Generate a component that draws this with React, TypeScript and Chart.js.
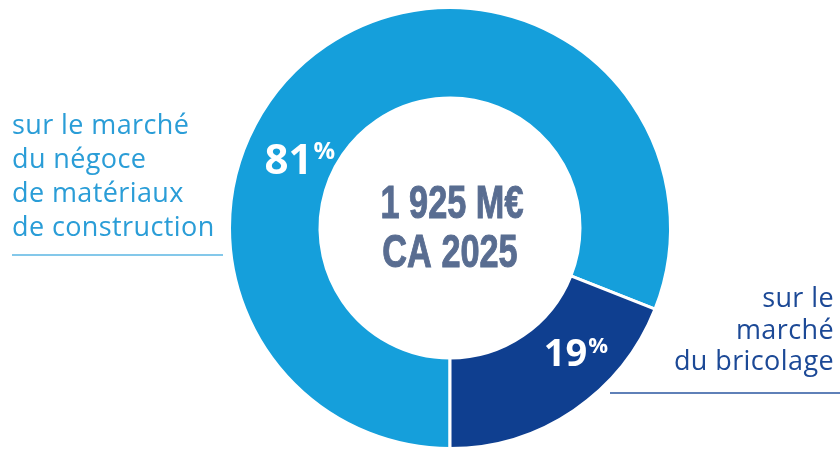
import React, { useEffect, useRef } from "react";
import { Chart, registerables } from "chart.js";

Chart.register(...registerables);

const categories = ["sur le marché du négoce de matériaux de construction", "sur le marché du bricolage"];
const shares = [81, 19];
const colors = ["#159fdb", "#0f3f90"];
const leftLabelLines = ["sur le marché", "du négoce", "de matériaux", "de construction"];
const rightLabelLines = ["sur le", "marché", "du bricolage"];
const centerLines = ["1 925 M€", "CA 2025"];

// label anchors inside each arc: fraction along angle, fraction along ring thickness
const labelAngleFrac = [0.393, 0.337];
const labelRadialFrac = [0.39, 0.52];
const digitSizes = [42, 38];
const pctSizes = [24, 22];

const overlayPlugin = {
  id: "overlay",
  afterDraw(chart: any) {
    const ctx = chart.ctx as CanvasRenderingContext2D;
    const meta = chart.getDatasetMeta(0);
    ctx.save();
    let cx = 0;
    let cy = 0;
    meta.data.forEach((arc: any, i: number) => {
      const p = arc.getProps(["x", "y", "startAngle", "endAngle", "innerRadius", "outerRadius"], true);
      cx = p.x;
      cy = p.y;
      const a = p.startAngle + labelAngleFrac[i] * (p.endAngle - p.startAngle);
      const r = p.innerRadius + labelRadialFrac[i] * (p.outerRadius - p.innerRadius);
      const lx = p.x + Math.cos(a) * r;
      const ly = p.y + Math.sin(a) * r;
      const num = String(shares[i]);
      ctx.fillStyle = "#ffffff";
      ctx.textBaseline = "alphabetic";
      ctx.textAlign = "left";
      ctx.font = `bold ${digitSizes[i]}px 'Open Sans', sans-serif`;
      const w1 = ctx.measureText(num).width;
      ctx.font = `bold ${pctSizes[i]}px 'Open Sans', sans-serif`;
      const w2 = ctx.measureText("%").width;
      const total = w1 + 1 + w2;
      const x0 = lx - total / 2;
      const cap = digitSizes[i] * 0.714;
      const base = ly + cap / 2;
      ctx.font = `bold ${digitSizes[i]}px 'Open Sans', sans-serif`;
      ctx.fillText(num, x0, base);
      ctx.font = `bold ${pctSizes[i]}px 'Open Sans', sans-serif`;
      ctx.fillText("%", x0 + w1 + 1, base - cap - 2 + pctSizes[i] * 0.714);
    });

    // centre text (narrow bold, emulated by horizontal scaling to the target width)
    ctx.fillStyle = "#596d91";
    ctx.strokeStyle = "#596d91";
    ctx.lineWidth = 1;
    ctx.textAlign = "center";
    ctx.font = "bold 46px 'Liberation Sans', Arial, sans-serif";
    const w = ctx.measureText(centerLines[0]).width;
    const sx = 143 / w;
    ctx.save();
    ctx.translate(cx + 2, 0);
    ctx.scale(sx, 1);
    ctx.fillText(centerLines[0], 0, cy - 10);
    ctx.strokeText(centerLines[0], 0, cy - 10);
    ctx.fillText(centerLines[1], -2 / sx, cy + 39);
    ctx.strokeText(centerLines[1], -2 / sx, cy + 39);
    ctx.restore();

    // left label
    (ctx as any).letterSpacing = "0.4px";
    ctx.font = "27px 'Open Sans', sans-serif";
    ctx.fillStyle = "#2a9dd7";
    ctx.textAlign = "left";
    leftLabelLines.forEach((t, i) => ctx.fillText(t, 12, 134 + i * 34));
    ctx.strokeStyle = "#5bb6e3";
    ctx.lineWidth = 1.5;
    ctx.beginPath();
    ctx.moveTo(12, 255);
    ctx.lineTo(223, 255);
    ctx.stroke();

    // right label
    ctx.fillStyle = "#1c4996";
    ctx.textAlign = "right";
    rightLabelLines.forEach((t, i) => ctx.fillText(t, 834, 307 + i * 31.5));
    ctx.strokeStyle = "#2a56a0";
    ctx.beginPath();
    ctx.moveTo(610, 393);
    ctx.lineTo(840, 393);
    ctx.stroke();
    ctx.restore();
  },
};

export default function App() {
  const ref = useRef<HTMLCanvasElement | null>(null);
  useEffect(() => {
    if (!ref.current) return;
    const chart = new Chart(ref.current, {
      type: "doughnut",
      data: {
        labels: categories,
        datasets: [
          {
            data: shares,
            backgroundColor: colors,
            borderColor: "#ffffff",
            borderWidth: 3,
          },
        ],
      },
      options: {
        responsive: false,
        animation: false,
        devicePixelRatio: 1,
        rotation: 180,
        cutout: 130,
        layout: { padding: { left: 228, right: 168, top: 6, bottom: 6 } },
        plugins: { legend: { display: false }, tooltip: { enabled: false } },
      },
      plugins: [overlayPlugin],
    });
    return () => chart.destroy();
  }, []);
  return (
    <div style={{ position: "fixed", left: 0, top: 0, width: 840, height: 456, background: "#fff" }}>
      <canvas ref={ref} width={840} height={456} />
    </div>
  );
}
